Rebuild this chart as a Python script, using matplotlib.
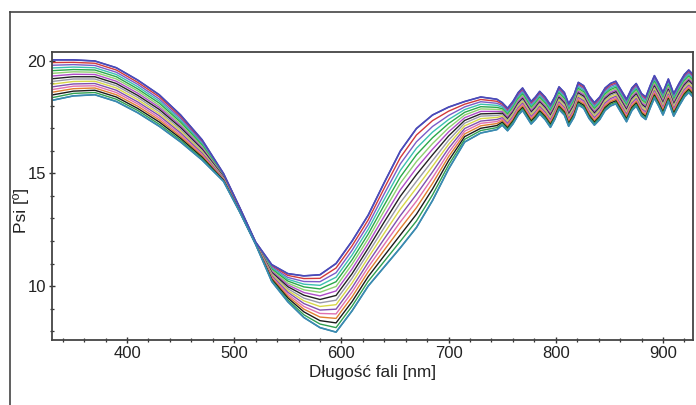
import matplotlib
matplotlib.use("Agg")
import matplotlib.pyplot as plt
from matplotlib.lines import Line2D
from matplotlib.ticker import MultipleLocator
import numpy as np

plt.rcParams['font.family'] = ['Liberation Sans', 'DejaVu Sans']

# ---- data ----
wavelength = [330, 350, 370, 390, 410, 430, 450, 470, 490, 505, 520, 535, 550,
              565, 580, 595, 610, 625, 640, 655, 670, 685, 700, 715, 730, 745]

psi_01 = [20.05, 20.05, 20.00, 19.70, 19.15, 18.50, 17.60, 16.50, 15.00, 13.50, 11.95, 10.95, 10.55, 10.45, 10.50, 11.00, 12.00, 13.15, 14.60, 16.00, 17.00, 17.60, 17.95, 18.20, 18.40, 18.30]
psi_02 = [19.93, 19.94, 19.90, 19.60, 19.05, 18.41, 17.52, 16.44, 14.98, 13.49, 11.94, 10.90, 10.47, 10.33, 10.34, 10.80, 11.79, 12.94, 14.35, 15.71, 16.71, 17.35, 17.77, 18.08, 18.29, 18.21]
psi_03 = [19.81, 19.84, 19.80, 19.50, 18.96, 18.31, 17.44, 16.38, 14.95, 13.47, 11.94, 10.85, 10.38, 10.20, 10.19, 10.59, 11.59, 12.73, 14.10, 15.43, 16.41, 17.09, 17.58, 17.96, 18.19, 18.12]
psi_04 = [19.69, 19.73, 19.70, 19.40, 18.86, 18.22, 17.36, 16.32, 14.93, 13.46, 11.93, 10.80, 10.30, 10.08, 10.03, 10.39, 11.38, 12.52, 13.85, 15.14, 16.12, 16.84, 17.40, 17.84, 18.08, 18.03]
psi_05 = [19.57, 19.62, 19.60, 19.30, 18.76, 18.13, 17.28, 16.26, 14.91, 13.45, 11.92, 10.75, 10.22, 9.96, 9.87, 10.19, 11.17, 12.31, 13.60, 14.85, 15.83, 16.59, 17.22, 17.72, 17.97, 17.94]
psi_06 = [19.45, 19.52, 19.50, 19.20, 18.67, 18.03, 17.20, 16.20, 14.88, 13.43, 11.92, 10.70, 10.13, 9.83, 9.72, 9.98, 10.97, 12.10, 13.35, 14.57, 15.53, 16.33, 17.03, 17.60, 17.87, 17.85]
psi_07 = [19.33, 19.41, 19.40, 19.10, 18.57, 17.94, 17.12, 16.14, 14.86, 13.42, 11.91, 10.65, 10.05, 9.71, 9.56, 9.78, 10.76, 11.89, 13.10, 14.28, 15.24, 16.08, 16.85, 17.48, 17.76, 17.76]
psi_08 = [19.21, 19.30, 19.30, 19.00, 18.47, 17.85, 17.04, 16.08, 14.84, 13.41, 11.90, 10.60, 9.97, 9.59, 9.40, 9.58, 10.55, 11.68, 12.85, 13.99, 14.95, 15.83, 16.67, 17.36, 17.65, 17.67]
psi_09 = [19.09, 19.20, 19.20, 18.90, 18.38, 17.75, 16.96, 16.02, 14.81, 13.39, 11.90, 10.55, 9.88, 9.46, 9.25, 9.37, 10.35, 11.47, 12.60, 13.71, 14.65, 15.57, 16.48, 17.24, 17.55, 17.58]
psi_10 = [18.97, 19.09, 19.10, 18.80, 18.28, 17.66, 16.88, 15.96, 14.79, 13.38, 11.89, 10.50, 9.80, 9.34, 9.09, 9.17, 10.14, 11.26, 12.35, 13.42, 14.36, 15.32, 16.30, 17.12, 17.44, 17.49]
psi_11 = [18.85, 18.98, 19.00, 18.70, 18.18, 17.57, 16.80, 15.90, 14.77, 13.37, 11.88, 10.45, 9.72, 9.22, 8.93, 8.97, 9.93, 11.05, 12.10, 13.13, 14.07, 15.07, 16.12, 17.00, 17.33, 17.40]
psi_12 = [18.73, 18.88, 18.90, 18.60, 18.09, 17.47, 16.72, 15.84, 14.74, 13.35, 11.88, 10.40, 9.63, 9.09, 8.78, 8.76, 9.73, 10.84, 11.85, 12.85, 13.77, 14.81, 15.93, 16.88, 17.23, 17.31]
psi_13 = [18.61, 18.77, 18.80, 18.50, 17.99, 17.38, 16.64, 15.78, 14.72, 13.34, 11.87, 10.35, 9.55, 8.97, 8.62, 8.56, 9.52, 10.63, 11.60, 12.56, 13.48, 14.56, 15.75, 16.76, 17.12, 17.22]
psi_14 = [18.49, 18.66, 18.70, 18.40, 17.89, 17.29, 16.56, 15.72, 14.70, 13.33, 11.86, 10.30, 9.47, 8.85, 8.46, 8.36, 9.31, 10.42, 11.35, 12.27, 13.19, 14.31, 15.57, 16.64, 17.01, 17.13]
psi_15 = [18.37, 18.56, 18.60, 18.30, 17.80, 17.19, 16.48, 15.66, 14.67, 13.31, 11.86, 10.25, 9.38, 8.72, 8.31, 8.15, 9.11, 10.21, 11.10, 11.99, 12.89, 14.05, 15.38, 16.52, 16.91, 17.04]
psi_16 = [18.25, 18.45, 18.50, 18.20, 17.70, 17.10, 16.40, 15.60, 14.65, 13.30, 11.85, 10.20, 9.30, 8.60, 8.15, 7.95, 8.90, 10.00, 10.85, 11.70, 12.60, 13.80, 15.20, 16.40, 16.80, 16.95]

# common oscillating tail (interference fringes) and per-curve offset from it
tail_wavelength = [750, 755, 760, 765, 769, 773, 777, 781, 785, 790, 795, 799, 803, 808, 812, 817, 821, 826, 831, 836,
                   841, 846, 851, 856, 861, 866, 871, 875, 880, 884, 888, 892, 896, 900, 905, 910, 915, 920, 924, 928]
tail_psi = [17.65, 17.4, 17.7, 18.1, 18.3, 18.0, 17.7, 17.9, 18.15, 17.9, 17.55, 17.9, 18.35, 18.1, 17.6, 18.0, 18.55, 18.4, 17.95, 17.65,
            17.9, 18.3, 18.5, 18.6, 18.2, 17.8, 18.3, 18.5, 18.05, 17.9, 18.4, 18.85, 18.5, 18.1, 18.7, 18.05, 18.5, 18.9, 19.1, 18.9]
tail_offset = [0.50, 0.43, 0.37, 0.30, 0.23, 0.17, 0.10, 0.03, -0.03, -0.10, -0.17, -0.23, -0.30, -0.37, -0.43, -0.50]

series = [psi_01, psi_02, psi_03, psi_04, psi_05, psi_06, psi_07, psi_08,
          psi_09, psi_10, psi_11, psi_12, psi_13, psi_14, psi_15, psi_16]

colors = ['#4a4ab8', '#d23a3a', '#7a5cc8', '#3cc0b0', '#2aa84a', '#90d070', '#b04cc8', '#222222',
          '#9a9aa8', '#d8d848', '#8050b0', '#e070b0', '#e08030', '#1a1a1a', '#30a050', '#3a8ab0']

x_ticks = [400, 500, 600, 700, 800, 900]
y_ticks = [10, 15, 20]

# ---- figure ----
fig = plt.figure(figsize=(6.96, 4.05), dpi=100)
ax = fig.add_axes([52/696, 1 - 340/405, (693 - 52)/696, (340 - 52)/405])

wl_all = np.array(wavelength + tail_wavelength, dtype=float)
for vals, off, col in zip(series, tail_offset, colors):
    y = np.array(vals + [t + off for t in tail_psi], dtype=float)
    ax.plot(wl_all, y, color=col, lw=1.0, solid_joinstyle='round')
# outer envelope accents (top blue, bottom teal) drawn again on top
ax.plot(wl_all, np.array(psi_01 + [t + tail_offset[0] for t in tail_psi]), color=colors[0], lw=1.2)
ax.plot(wl_all, np.array(psi_16 + [t + tail_offset[-1] for t in tail_psi]), color=colors[-1], lw=1.2)

ax.set_xlim(330, 928)
ax.set_ylim(7.6, 20.4)
ax.set_xticks(x_ticks)
ax.set_yticks(y_ticks)
ax.xaxis.set_minor_locator(MultipleLocator(20))
ax.yaxis.set_minor_locator(MultipleLocator(1))
ax.tick_params(axis='both', which='major', direction='inout', length=5, width=1.0,
               color='#333333', labelsize=12, labelcolor='#222222', pad=2)
ax.tick_params(axis='both', which='minor', direction='inout', length=3, width=0.9, color='#333333')

for s in ax.spines.values():
    s.set_color('#444444')
    s.set_linewidth(1.3)

ax.set_xlabel('Długość fali [nm]', fontsize=12.3, color='#222222', labelpad=3)
ax.set_ylabel('Psi [º]', fontsize=12.5, color='#222222')
ax.yaxis.set_label_coords(-0.036, 0.45)

# outer frame (left and top lines)
fig.add_artist(Line2D([10/696, 10/696], [0, 1 - 12/405], transform=fig.transFigure,
                      color='#444444', lw=1.2))
fig.add_artist(Line2D([10/696, 1], [1 - 12/405, 1 - 12/405], transform=fig.transFigure,
                      color='#444444', lw=1.2))

fig.savefig('out.png', dpi=100)
